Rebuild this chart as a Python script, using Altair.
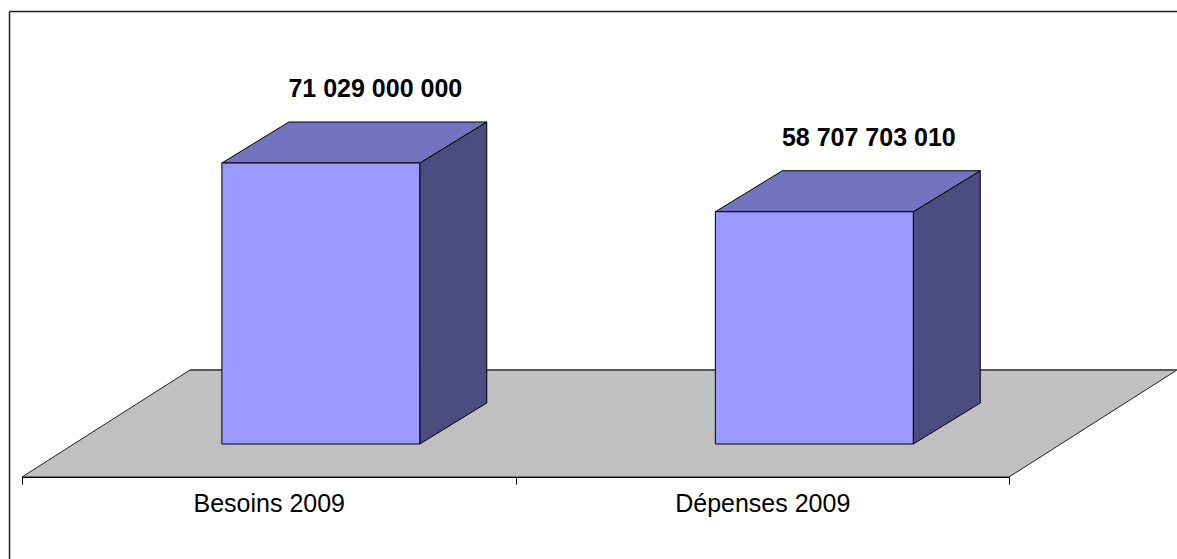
import altair as alt
import pandas as pd

# ---- data ---------------------------------------------------------------
CATEGORIES = ["Besoins 2009", "Dépenses 2009"]
VALUES = [71_029_000_000, 58_707_703_010]

# ---- layout (pixels) ----------------------------------------------------
W, H = 1177, 559
PAD_L, PAD_R, PAD_T, PAD_B = 22, 168, 0, 82
PLOT_W = W - PAD_L - PAD_R          # x axis runs along the floor's front edge
PLOT_H = H - PAD_T - PAD_B          # plot bottom = floor's front edge
SLOT_PX = PLOT_W / len(CATEGORIES)

BASE_PX = 33                        # bar base sits this far above the floor front edge
TALLEST_PX = 281                    # front-face height of the tallest bar
PPU = TALLEST_PX / max(VALUES)      # pixels per unit of value
Y_LO = -BASE_PX / PPU
Y_HI = (PLOT_H - BASE_PX) / PPU

# oblique projection of the depth axis
BAR_DX = 67 / SLOT_PX
BAR_DY = 41 / PPU
FLOOR_DX = 168 / SLOT_PX
FLOOR_BACK = (107 - BASE_PX) / PPU

BAR_LEFT, BAR_RIGHT = 0.405, 0.806  # front face inside each category slot
LABEL_X = 0.716

FONT = "Liberation Sans, Arial, sans-serif"
FRONT, TOP, SIDE, FLOOR = "#9999FF", "#7373BF", "#4C4C80", "#C0C0C0"

# ---- geometry tables built from the values ------------------------------
front_rows, top_rows, side_rows, label_rows = [], [], [], []
for i, (cat, v) in enumerate(zip(CATEGORIES, VALUES)):
    l, r = i + BAR_LEFT, i + BAR_RIGHT
    front_rows.append({"cat": cat, "x": l, "x2": r, "y": v, "y2": 0})
    top_rows += [
        {"cat": cat, "y": v, "x": l, "x2": r},
        {"cat": cat, "y": v + BAR_DY, "x": l + BAR_DX, "x2": r + BAR_DX},
    ]
    side_rows += [
        {"cat": cat, "x": r, "y": v, "y2": 0},
        {"cat": cat, "x": r + BAR_DX, "y": v + BAR_DY, "y2": BAR_DY},
    ]
    label_rows.append({
        "cat": cat, "x": i + LABEL_X, "y": v + BAR_DY,
        "text": f"{v:,}".replace(",", " "),
    })

n = len(CATEGORIES)
floor_rows = [
    {"edge": "front", "y": Y_LO, "x": 0, "x2": n},
    {"edge": "back", "y": FLOOR_BACK, "x": FLOOR_DX, "x2": n + FLOOR_DX},
]

front_df = pd.DataFrame(front_rows)
top_df = pd.DataFrame(top_rows)
side_df = pd.DataFrame(side_rows)
label_df = pd.DataFrame(label_rows)
floor_df = pd.DataFrame(floor_rows)

xs = alt.Scale(domain=[0, n], nice=False, zero=False)
ys = alt.Scale(domain=[Y_LO, Y_HI], nice=False, zero=False)

tick_values = [k / 2 for k in range(2 * n + 1)]
label_expr = " : ".join(
    f"datum.value == {i + 0.5} ? '{c}'" for i, c in enumerate(CATEGORIES)
) + " : ''"

x_axis = alt.Axis(
    values=tick_values,
    labelExpr=label_expr,
    tickOpacity={"condition": {"test": "datum.value % 1 === 0", "value": 1}, "value": 0},
    tickSize=7,
    tickColor="black",
    tickWidth=1,
    domainColor="black",
    domainWidth=1,
    labelFont=FONT,
    labelFontSize=25,
    labelColor="black",
    labelPadding=7,
    labelOverlap=False,
    labelFlush=False,
    grid=False,
    title=None,
    zindex=1,
)


def X(field="x:Q", **kw):
    return alt.X(field, scale=xs, axis=x_axis, **kw)


def Y(field="y:Q", **kw):
    return alt.Y(field, scale=ys, axis=None, **kw)


floor = alt.Chart(floor_df).mark_area(
    orient="horizontal", fill=FLOOR, stroke="#222222", strokeWidth=1
).encode(y=Y(stack=None), x=X(stack=None), x2="x2:Q")

floor_back = alt.Chart(floor_df).transform_filter(
    alt.datum.edge == "back"
).mark_rule(color="#5A5A5A", strokeWidth=2).encode(y=Y(), x=X(), x2="x2:Q")

side = alt.Chart(side_df).mark_area(
    orient="vertical", fill=SIDE, stroke="black", strokeWidth=1
).encode(x=X(), y=Y(stack=None), y2="y2:Q", detail="cat:N")

top = alt.Chart(top_df).mark_area(
    orient="horizontal", fill=TOP, stroke="black", strokeWidth=1
).encode(y=Y(), x=X(stack=None), x2="x2:Q", detail="cat:N")

front = alt.Chart(front_df).mark_rect(
    fill=FRONT, stroke="black", strokeWidth=1
).encode(x=X(), x2="x2:Q", y=Y(), y2="y2:Q")

labels = alt.Chart(label_df).mark_text(
    font=FONT, fontSize=25, fontWeight="bold", color="black",
    baseline="middle", align="center", dy=-33,
).encode(x=X(), y=Y(), text="text:N")

# chart-area frame (top and left edges)
one = pd.DataFrame({"k": [0]})
frame_top = alt.Chart(one).mark_rule(color="#222222", strokeWidth=1.5).encode(
    x=alt.value(9.5 - PAD_L), x2=alt.value(W + 10), y=alt.value(11.5)
)
frame_left = alt.Chart(one).mark_rule(color="#222222", strokeWidth=1.5).encode(
    x=alt.value(9.5 - PAD_L), y=alt.value(11.5), y2=alt.value(H + 10)
)

chart = alt.layer(
    floor, floor_back, side, top, front, labels, frame_top, frame_left
).properties(
    width=PLOT_W,
    height=PLOT_H,
    padding={"left": PAD_L, "right": PAD_R, "top": PAD_T, "bottom": PAD_B},
    autosize=alt.AutoSizeParams(type="none"),
    background="white",
).configure_view(stroke=None)

chart.save("out.html", embed_options={"renderer": "svg", "actions": False})
